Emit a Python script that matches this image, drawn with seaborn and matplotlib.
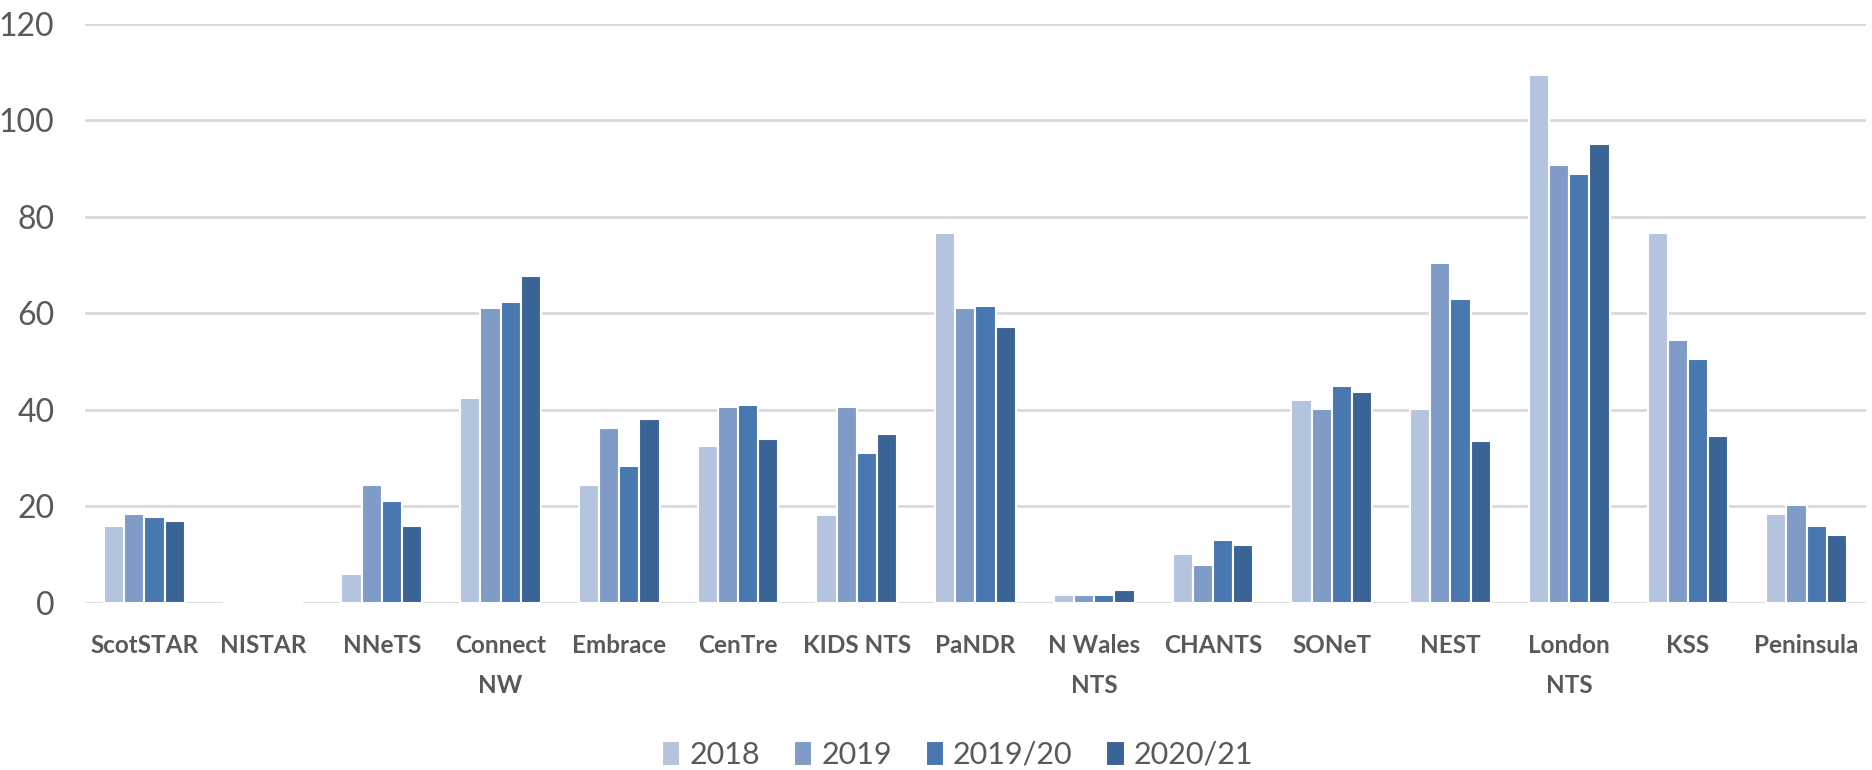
import matplotlib
matplotlib.use("Agg")
import matplotlib.pyplot as plt
import seaborn as sns
import pandas as pd

# data
networks = ["ScotSTAR", "NISTAR", "NNeTS", "Connect\nNW", "Embrace", "CenTre",
            "KIDS NTS", "PaNDR", "N Wales\nNTS", "CHANTS", "SONeT", "NEST",
            "London\nNTS", "KSS", "Peninsula"]
years = ["2018", "2019", "2019/20", "2020/21"]
v2018 = [15.9, 0, 6.0, 42.5, 24.4, 32.6, 18.2, 76.7, 1.6, 10.1, 42.1, 40.2, 109.3, 76.6, 18.4]
v2019 = [18.4, 0, 24.4, 61.0, 36.3, 40.6, 40.6, 61.0, 1.6, 7.8, 40.2, 70.4, 90.7, 54.5, 20.3]
v1920 = [17.8, 0, 21.1, 62.3, 28.3, 41.1, 31.0, 61.4, 1.6, 13.1, 44.9, 62.9, 88.9, 50.6, 15.9]
v2021 = [16.9, 0, 15.9, 67.7, 38.2, 34.0, 34.9, 57.2, 2.6, 12.1, 43.6, 33.6, 95.0, 34.6, 14.0]
colors = ["#B4C4DF", "#7F9CC8", "#4977B0", "#3B6496"]

df = pd.DataFrame({
    "network": networks * 4,
    "year": [y for y in years for _ in networks],
    "value": v2018 + v2019 + v1920 + v2021,
})

sns.set_style("white")
plt.rcParams["font.family"] = ["Lato", "DejaVu Sans"]

fig = plt.figure(figsize=(18.72, 7.7), dpi=100)
ax = fig.add_axes([85 / 1872, 1 - 603 / 770, (1866 - 85) / 1872, (603 - 23.5) / 770])

sns.barplot(data=df, x="network", y="value", hue="year", palette=colors,
            saturation=1, width=0.68, edgecolor="white", linewidth=1.5, ax=ax)

ax.set_ylim(0, 120)
ax.set_yticks(range(0, 121, 20))
ax.set_xlim(-0.5, len(networks) - 0.5)
ax.yaxis.grid(True, color="#D9D9D9", linewidth=2)
ax.set_axisbelow(True)
for s in ax.spines.values():
    s.set_visible(False)
ax.set_xlabel("")
ax.set_ylabel("")
ax.tick_params(axis="y", labelsize=23, labelcolor="#595959", length=0, pad=22)
ax.tick_params(axis="x", labelsize=17.5, labelcolor="#595959", length=0, pad=22)
for t in ax.get_xticklabels():
    t.set_fontweight("bold")
    t.set_linespacing(1.9)
    t.set_verticalalignment("top")

ax.legend(loc="center", bbox_to_anchor=(0.49, -0.262), ncol=4, frameon=False,
          fontsize=22, labelcolor="#595959", handlelength=0.6, handleheight=0.9,
          handletextpad=0.3, columnspacing=1.1, borderaxespad=0)

fig.savefig("out.png", dpi=100)
